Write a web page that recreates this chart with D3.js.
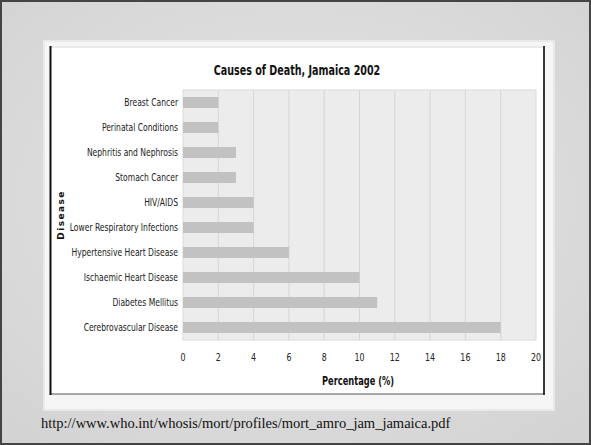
<!DOCTYPE html>
<html><head><meta charset="utf-8">
<script src="https://cdn.jsdelivr.net/npm/d3@7"></script>
<style>
html,body{margin:0;padding:0;background:#d9d9d9;}
svg{display:block;}
</style></head>
<body>
<script>
const categories = ["Breast Cancer","Perinatal Conditions","Nephritis and Nephrosis","Stomach Cancer","HIV/AIDS","Lower Respiratory Infections","Hypertensive Heart Disease","Ischaemic Heart Disease","Diabetes Mellitus","Cerebrovascular Disease"];
const values = [2,2,3,3,4,4,6,10,11,18];
const xTicks = [0,2,4,6,8,10,12,14,16,18,20];
const title = "Causes of Death, Jamaica 2002";
const xTitle = "Percentage (%)";
const yTitle = "Disease";
const source = "http://www.who.int/whosis/mort/profiles/mort_amro_jam_jamaica.pdf";

const W = 591, H = 445;
const narrow = "'Liberation Sans Narrow','DejaVu Sans Condensed','Arial Narrow',sans-serif";
const svg = d3.select("body").append("svg").attr("width", W).attr("height", H);

// paper background
const defs = svg.append("defs");
const rg = defs.append("radialGradient").attr("id","bg").attr("cx","50%").attr("cy","45%").attr("r","75%");
rg.append("stop").attr("offset","0%").attr("stop-color","#e6e6e6");
rg.append("stop").attr("offset","100%").attr("stop-color","#d2d2d2");
svg.append("rect").attr("width",W).attr("height",H).attr("fill","url(#bg)");
svg.append("rect").attr("x",1).attr("y",1).attr("width",W-2).attr("height",H-2)
  .attr("fill","none").attr("stroke","#444").attr("stroke-width",2);

// white panel with soft shadow edge
svg.append("rect").attr("x",43).attr("y",40).attr("width",512).attr("height",371).attr("fill","#e9e9e9");
svg.append("rect").attr("x",45).attr("y",42).attr("width",508).attr("height",367).attr("fill","#f6f6f6");
svg.append("rect").attr("x",50).attr("y",47).attr("width",494).attr("height",347).attr("fill","#ffffff");
// frame lines
svg.append("line").attr("x1",50).attr("x2",544).attr("y1",47).attr("y2",47).attr("stroke","#d8d8d8");
svg.append("line").attr("x1",50).attr("x2",544).attr("y1",394).attr("y2",394).attr("stroke","#555").attr("stroke-width",1.2);
svg.append("line").attr("x1",50.5).attr("x2",50.5).attr("y1",46).attr("y2",395).attr("stroke","#111").attr("stroke-width",2);
svg.append("line").attr("x1",544).attr("x2",544).attr("y1",46).attr("y2",395).attr("stroke","#222").attr("stroke-width",1.8);

// scales
const x = d3.scaleLinear().domain([0,20]).range([183,536]);
const y = d3.scaleBand().domain(categories).range([90,340]).paddingInner(0.56).paddingOuter(0.28);

// plot area
svg.append("rect").attr("x",x(0)).attr("y",90).attr("width",x(20)-x(0)).attr("height",250)
  .attr("fill","#ececec").attr("stroke","#dcdcdc");

// grid
svg.append("g").selectAll("line").data(xTicks.slice(1,-1)).join("line")
  .attr("x1",d=>x(d)).attr("x2",d=>x(d)).attr("y1",90).attr("y2",340)
  .attr("stroke","#d6d6d6").attr("stroke-width",1);

// bars
svg.append("g").selectAll("rect").data(values).join("rect")
  .attr("x",x(0)).attr("y",(d,i)=>y(categories[i]))
  .attr("width",d=>x(d)-x(0)).attr("height",y.bandwidth())
  .attr("fill","#c2c2c2");

// y axis
const ySx = 0.77;
const yAxis = d3.axisLeft(y).tickSize(0).tickPadding(5);
const gy = svg.append("g").attr("transform",`translate(${x(0)},0)`).call(yAxis);
gy.select(".domain").remove();
gy.selectAll("text").attr("font-family",narrow).attr("font-size",11).attr("fill","#222")
  .attr("x",-5/ySx).attr("transform",`scale(${ySx},1)`);

// x axis
const xSx = 0.8;
const xAxis = d3.axisBottom(x).tickValues(xTicks).tickSize(0).tickPadding(13);
const gx = svg.append("g").attr("transform",`translate(0,340)`).call(xAxis);
gx.select(".domain").remove();
gx.selectAll("text").attr("font-family",narrow).attr("font-size",11).attr("fill","#222")
  .attr("x",0).attr("transform",`scale(${xSx},1)`)
  .each(function(d){ d3.select(this).attr("x", 0); d3.select(this.parentNode).attr("transform",`translate(${x(d)},0)`); });

// titles
svg.append("text").attr("transform","translate(297,75) scale(0.76,1)").attr("text-anchor","middle")
  .attr("font-family",narrow).attr("font-weight","bold").attr("font-size",14).attr("fill","#111").text(title);
svg.append("text").attr("transform","translate(358,385) scale(0.8,1)").attr("text-anchor","middle")
  .attr("font-family",narrow).attr("font-weight","bold").attr("font-size",11.5).attr("fill","#111").text(xTitle);
svg.append("text").attr("transform","translate(64,215) rotate(-90)").attr("text-anchor","middle")
  .attr("font-family","'DejaVu Sans',Verdana,sans-serif").attr("font-weight","bold").attr("font-size",9)
  .attr("letter-spacing",1.4).attr("fill","#111").text(yTitle);

// source
svg.append("text").attr("x",41).attr("y",428)
  .attr("font-family","'Liberation Serif','Times New Roman',serif").attr("font-size",14.5).attr("fill","#111").text(source);
</script>
</body></html>
